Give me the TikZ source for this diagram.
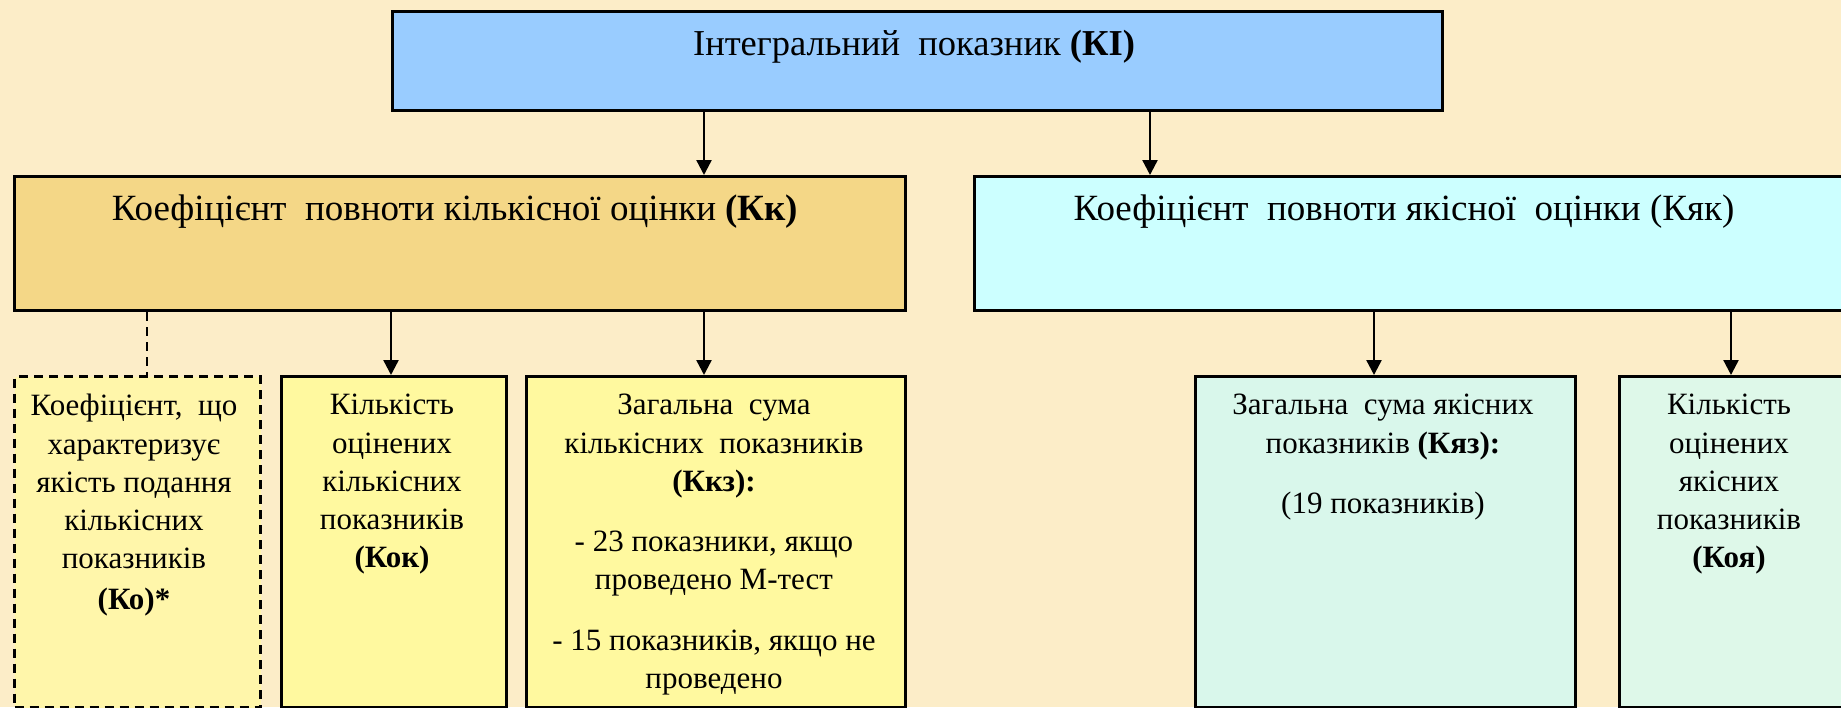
\documentclass[tikz,border=0pt]{standalone}
\usepackage{fontspec}
\setmainfont{Liberation Serif}
\usetikzlibrary{arrows.meta}
\definecolor{bg}{HTML}{FCEDC8}
\definecolor{topc}{HTML}{99CCFF}
\definecolor{kkc}{HTML}{F4D787}
\definecolor{kyc}{HTML}{CCFFFF}
\definecolor{yel}{HTML}{FFF99F}
\definecolor{yeld}{HTML}{FFF6AA}
\definecolor{grn}{HTML}{D9F7EB}
\definecolor{grn2}{HTML}{DEF8E9}
\begin{document}
\begin{tikzpicture}[x=1pt,y=-1pt,
  box/.style={draw=black,line width=3pt,inner sep=0pt,anchor=north west},
  dbox/.style={box,dash pattern=on 9pt off 6pt},
  arr/.style={line width=2.4pt,-{Triangle[length=15pt,width=15pt]}},
  dline/.style={line width=2.4pt,dash pattern=on 9pt off 6pt},
  big/.style={font=\fontsize{36.5}{44}\selectfont,anchor=base,inner sep=0pt},
  mid/.style={font=\fontsize{37}{44}\selectfont,anchor=base,inner sep=0pt},
  small/.style={font=\fontsize{31}{38.3}\selectfont,anchor=north,align=center,inner sep=0pt}]
\clip (0,0) rectangle (1841,707);
\fill[bg] (0,0) rectangle (1841,707);
% boxes
\node[box,fill=topc,minimum width=1050pt,minimum height=99pt] (top) at (391,10) {};
\node[box,fill=kkc,minimum width=891pt,minimum height=134pt] (kk) at (13,175) {};
\node[box,fill=kyc,minimum width=880pt,minimum height=134pt] (kyak) at (973,175) {};
\node[dbox,fill=yeld,minimum width=246pt,minimum height=331pt] (ko) at (13,375) {};
\node[box,fill=yel,minimum width=225pt,minimum height=331pt] (kok) at (280,375) {};
\node[box,fill=yel,minimum width=379pt,minimum height=331pt] (kkz) at (525,375) {};
\node[box,fill=grn,minimum width=380pt,minimum height=331pt] (kyaz) at (1194,375) {};
\node[box,fill=grn2,minimum width=235pt,minimum height=331pt] (koya) at (1618,375) {};
% texts
\node[big] (topT) at (914,55) {Інтегральний\ \ показник \textbf{(КІ)}};
\node[mid] (kkT) at (455,220) {Коефіцієнт\ \ повноти кількісної оцінки \textbf{(Кк)}};
\node[mid] (kyakT) at (1404,220) {Коефіцієнт\ \ повноти якісної\ \ оцінки (Кяк)};
\node[small] (koT) at (134,394) {Коефіцієнт,\ \ що\\характеризує\\якість подання\\кількісних\\показників\\[2pt]\textbf{(Ко)*}};
\node[small] (kokT) at (392,394) {Кількість\\оцінених\\кількісних\\показників\\\textbf{(Кок)}};
\node[small] (kkzT) at (714,394) {Загальна\ \ сума\\кількісних\ \ показників\\\textbf{(Ккз):}\\[22pt]- 23 показники, якщо\\проведено М-тест\\[22pt]- 15 показників, якщо не\\проведено};
\node[small] (kyazT) at (1383,394) {Загальна\ \ сума якісних\\показників \textbf{(Кяз):}\\[22pt](19 показників)};
\node[small] (koyaT) at (1729,394) {Кількість\\оцінених\\якісних\\показників\\\textbf{(Коя)}};
% connectors
\draw[arr] (704,0 |- top.south) -- (704,0 |- kk.north);
\draw[arr] (1150,0 |- top.south) -- (1150,0 |- kyak.north);
\draw[dline] (147,0 |- kk.south) -- (147,0 |- ko.north);
\draw[arr] (391,0 |- kk.south) -- (391,0 |- kok.north);
\draw[arr] (704,0 |- kk.south) -- (704,0 |- kkz.north);
\draw[arr] (1374,0 |- kyak.south) -- (1374,0 |- kyaz.north);
\draw[arr] (1731,0 |- kyak.south) -- (1731,0 |- koya.north);
\end{tikzpicture}
\end{document}
